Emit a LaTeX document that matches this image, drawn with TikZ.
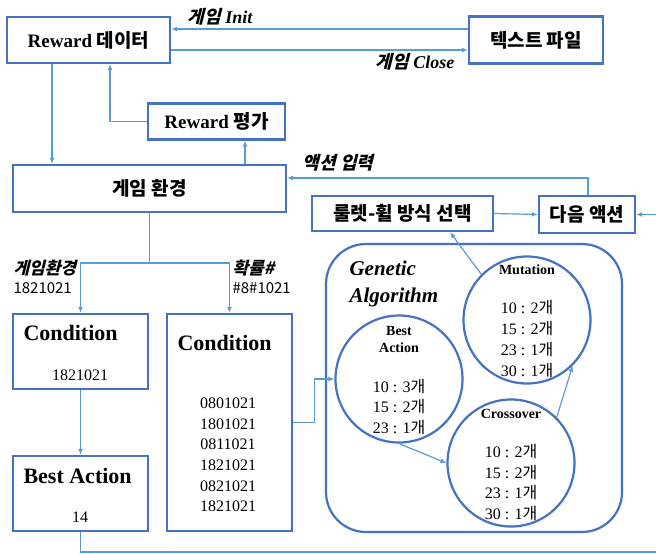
\documentclass[tikz,border=0pt]{standalone}
\usepackage{fontspec}
\setmainfont{Liberation Serif}
\newfontfamily\kr{Noto Sans CJK KR}
\newfontfamily\krsl{Noto Sans CJK KR}[FakeSlant=0.25]
\usetikzlibrary{arrows.meta}
\definecolor{boxblue}{RGB}{68,114,196}
\definecolor{linkblue}{RGB}{91,155,213}
\newcommand{\gae}{{\kr 개}}
\tikzset{
  box/.style={draw=boxblue, line width=2.2pt, fill=white, inner sep=0pt},
  ring/.style={circle, draw=boxblue, line width=2.2pt, fill=white, inner sep=0pt, minimum size=127pt},
  link/.style={draw=linkblue, line width=1.2pt, -{Latex[length=6pt,width=5pt]}},
  plain/.style={draw=linkblue, line width=1.2pt},
  big/.style={font=\bfseries\fontsize{19}{23}\selectfont},
  tag/.style={font=\bfseries\itshape\fontsize{18}{22}\selectfont},
  count/.style={align=center, font=\fontsize{16}{20.7}\selectfont},
  ctitle/.style={align=center, font=\bfseries\fontsize{14}{17}\selectfont}
}
\begin{document}
\begin{tikzpicture}[x=1pt,y=-1pt]
\useasboundingbox (0,0) rectangle (656,554);
\clip (0,0) rectangle (656,554);
% top row
\node[box, big, minimum width=163pt, minimum height=46pt] (rew) at (88.5,40) {Reward {\kr 데이터}};
\node[box, big, minimum width=134pt, minimum height=47pt] (txt) at (536,40) {\kr 텍스트 파일};
\node[box, big, minimum width=137pt, minimum height=36pt] (eval) at (216.5,121.5) {Reward {\kr 평가}};
\node[box, big, minimum width=273pt, minimum height=47pt] (env) at (149.5,188.5) {\kr 게임 환경};
\node[box, big, minimum width=181pt, minimum height=35pt] (wheel) at (402.5,213.5) {\kr 룰렛-휠 방식 선택};
\node[box, big, minimum width=96pt, minimum height=37pt] (next) at (587,214.5) {\kr 다음 액션};
% labels
\node[tag] (init) at (220,17) {{\krsl 게임} Init};
\node[tag] (close) at (415,62) {{\krsl 게임} Close};
\node[tag] (act) at (338,163) {\krsl 액션 입력};
\node[tag, anchor=west, font=\bfseries\fontsize{17}{20}\selectfont] (envtag) at (10,268) {\krsl 게임환경};
\node[anchor=west, font=\kr\fontsize{15}{18}\selectfont] (envval) at (10,288) {1821021};
\node[tag, anchor=west, font=\bfseries\fontsize{17}{20}\selectfont] (probtag) at (229,268) {\krsl 확률\#};
\node[anchor=west, font=\kr\fontsize{15}{18}\selectfont] (probval) at (229,288) {\#8\#1021};
% condition boxes
\node[box, minimum width=135pt, minimum height=75pt] (conda) at (80.5,351.5) {};
\node[anchor=west, font=\bfseries\fontsize{22}{26}\selectfont] (condat) at (20,333) {Condition};
\node[font=\fontsize{16}{20}\selectfont] (condav) at (80,375) {1821021};
\node[box, minimum width=135pt, minimum height=75pt] (bestbox) at (80.5,493.5) {};
\node[anchor=west, font=\bfseries\fontsize{22}{26}\selectfont] (bestt) at (20,476) {Best Action};
\node[font=\fontsize{16}{20}\selectfont] (bestv) at (80,517) {14};
\node[box, minimum width=125pt, minimum height=217pt] (condb) at (229.5,422.5) {};
\node[anchor=west, font=\bfseries\fontsize{22}{26}\selectfont] (condbt) at (174,343) {Condition};
\node[count] (condbv) at (228,455) {0801021\\1801021\\0811021\\1821021\\0821021\\1821021};
% genetic algorithm
\node[box, rounded corners=40pt, minimum width=296pt, minimum height=288pt] (ga) at (474,388) {};
\node[anchor=west, align=left, font=\bfseries\itshape\fontsize{21}{27}\selectfont] (gat) at (346,283.5) {Genetic\\Algorithm};
\node[ring] (mut) at (527,320) {};
\node[ctitle] (mutt) at (527,270) {Mutation};
\node[count] (mutv) at (527,339) {10 : 2\gae\\15 : 2\gae\\23 : 1\gae\\30 : 1\gae};
\node[ring] (best) at (399,379) {};
\node[ctitle] (bestct) at (399,339.5) {Best\\Action};
\node[count] (bestcv) at (399,407) {10 : 3\gae\\15 : 2\gae\\23 : 1\gae};
\node[ring] (cross) at (511,463) {};
\node[ctitle] (crosst) at (511,414) {Crossover};
\node[count] (crossv) at (511,482.5) {10 : 2\gae\\15 : 2\gae\\23 : 1\gae\\30 : 1\gae};
% connectors
\draw[link] (txt.west |- 0,29) -- (rew.east |- 0,29);
\draw[link] (rew.east |- 0,50) -- (txt.west |- 0,50);
\draw[link] (eval.west) -| (rew.south -| 110,0);
\draw[link] (rew.south -| 52,0) -- (env.north -| 52,0);
\draw[link] (env.north -| 245,0) -- (eval.south -| 245,0);
\draw[link] (next.north -| 588,0) |- (env.east |- 0,178);
\draw[link] (wheel.east) -- (next.west);
\coordinate (split) at (env.south |- 0,263);
\draw[plain] (env.south) -- (split);
\draw[link] (split) -| (conda.north);
\draw[link] (split) -| (condb.north);
\draw[link] (conda.south) -- (bestbox.north);
\draw[link] (condb.east) -- ++(21,0) |- (best.west);
\draw[link] (best.south) -- (cross.west);
\draw[link] (cross.45) -- (mut.-45);
\draw[link] (mut.135) -- (wheel.south -| 450,0);
\draw[link] (bestbox.south) -- (bestbox.south |- 0,552) -- (680,552) |- (next.east);
\end{tikzpicture}
\end{document}
